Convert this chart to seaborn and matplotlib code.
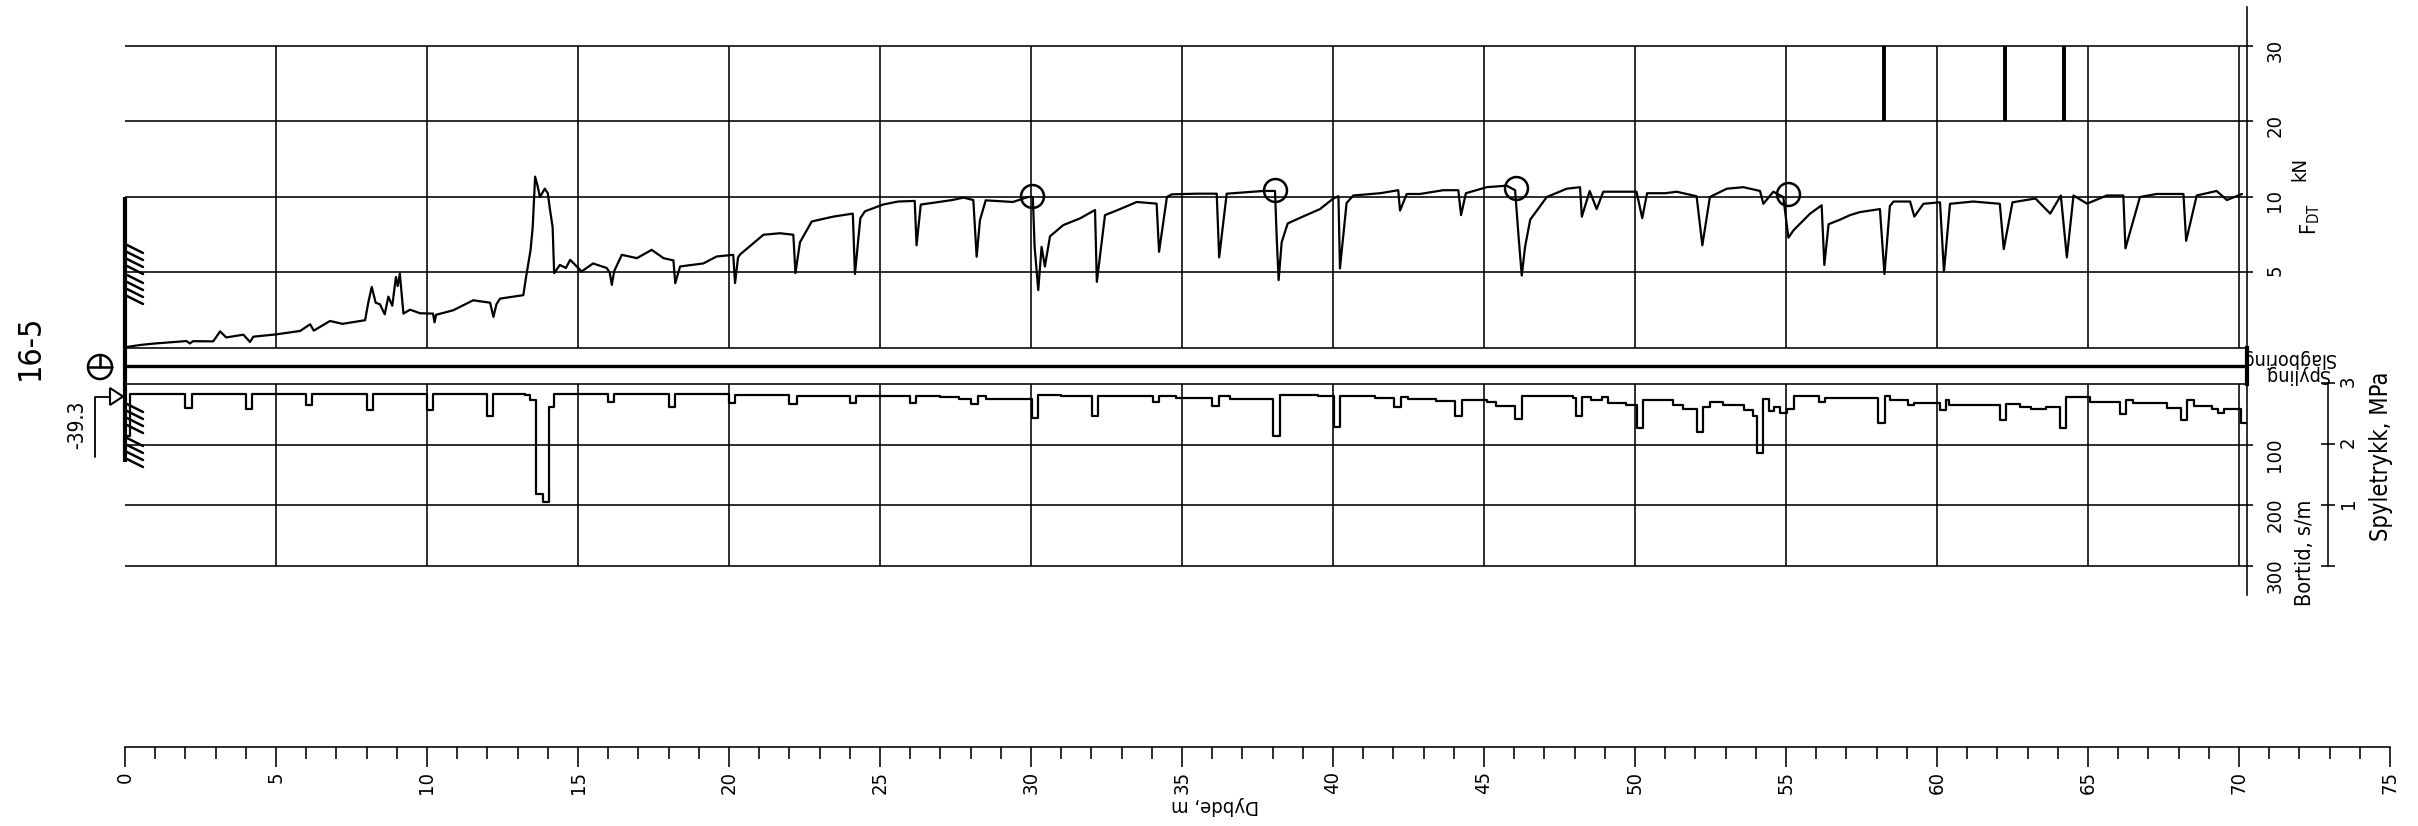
import numpy as np
import pandas as pd
import matplotlib
matplotlib.use("Agg")
import matplotlib.pyplot as plt
import seaborn as sns
from matplotlib import font_manager
from matplotlib.patches import Circle, Polygon
from matplotlib.ticker import FixedLocator, NullLocator, MultipleLocator

# ---------------- data ----------------
f_depth = [0.0, 0.5, 0.94, 1.5, 2.04, 2.15, 2.25, 2.92, 3.15, 3.35, 3.92, 4.14, 4.25, 5.0, 5.8,
           6.13, 6.25, 6.79, 7.2, 7.95, 8.06, 8.17, 8.3, 8.44, 8.6, 8.72, 8.85, 8.97, 9.03, 9.1,
           9.22, 9.44, 9.77, 10.2, 10.25, 10.3, 10.87, 11.53, 12.09, 12.2, 12.3, 12.42, 13.19,
           13.28, 13.43, 13.5, 13.58, 13.66, 13.74, 13.9, 14.0, 14.07, 14.16, 14.21, 14.4, 14.6,
           14.74, 15.12, 15.5, 15.95, 16.05, 16.12, 16.2, 16.45, 16.95, 17.44, 17.83, 18.16,
           18.22, 18.38, 19.15, 19.59, 20.14, 20.2, 20.3, 20.37, 20.75, 21.14, 21.69, 22.13,
           22.2, 22.35, 22.74, 23.45, 24.1, 24.17, 24.35, 24.5, 25.1, 25.6, 26.15, 26.21, 26.35,
           27.4, 27.76, 28.09, 28.2, 28.31, 28.5, 29.4, 29.9, 30.06, 30.12, 30.24, 30.35, 30.46,
           30.63, 31.07, 31.62, 32.12, 32.18, 32.45, 32.95, 33.5, 34.16, 34.24, 34.5, 34.66,
           35.49, 36.15, 36.23, 36.48, 37.7, 38.08, 38.14, 38.2, 38.3, 38.5, 39.0, 39.57, 40.01,
           40.18, 40.23, 40.45, 40.67, 41.56, 42.16, 42.22, 42.44, 42.88, 43.65, 44.15, 44.24,
           44.4, 45.09, 45.75, 46.03, 46.14, 46.25, 46.36, 46.53, 46.75, 47.08, 47.74, 48.18,
           48.24, 48.5, 48.73, 48.95, 50.05, 50.24, 50.4, 51.0, 51.38, 52.04, 52.23, 52.48,
           53.04, 53.59, 54.14, 54.25, 54.58, 54.91, 55.08, 55.25, 55.8, 56.18, 56.27, 56.41,
           56.79, 57.12, 57.45, 58.11, 58.26, 58.44, 58.56, 59.11, 59.25, 59.55, 60.1, 60.23,
           60.43, 61.2, 62.08, 62.21, 62.5, 63.26, 63.75, 64.1, 64.3, 64.52, 64.97, 65.62,
           66.17, 66.24, 66.72, 67.27, 68.16, 68.25, 68.6, 69.26, 69.6, 70.1]
f_kn = [0.05, 0.2, 0.29, 0.38, 0.46, 0.3, 0.45, 0.44, 1.1, 0.7, 0.88, 0.4, 0.75, 0.9, 1.13,
        1.57, 1.15, 1.79, 1.6, 1.84, 3.05, 4.05, 3.0, 2.9, 2.23, 3.4, 2.8, 4.7, 4.1, 4.93,
        2.28, 2.54, 2.3, 2.28, 1.7, 2.2, 2.5, 3.16, 3.0, 2.06, 2.9, 3.27, 3.5,
        4.7, 6.5, 8.0, 12.7, 11.5, 10.0, 11.1, 10.5, 9.2, 8.0, 4.96, 5.5, 5.3,
        5.84, 5.07, 5.6, 5.3, 5.0, 4.18, 5.1, 6.17, 5.95, 6.5, 5.95, 5.8,
        4.29, 5.4, 5.6, 6.06, 6.17, 4.3, 6.0, 6.2, 6.84, 7.5, 7.6, 7.5,
        4.96, 7.0, 8.38, 8.7, 8.9, 4.9, 8.6, 9.05, 9.5, 9.7, 9.74, 6.8, 9.5,
        9.8, 9.96, 9.8, 6.04, 8.47, 9.78, 9.67, 10.0, 10.0, 6.7, 3.83, 6.7, 5.4,
        7.4, 8.14, 8.58, 9.14, 4.38, 8.8, 9.2, 9.67, 9.56, 6.37, 10.0, 10.35,
        10.44, 10.44, 6.0, 10.44, 10.8, 10.8, 7.1, 4.5, 7.0, 8.25, 8.7, 9.2, 9.9,
        10.1, 5.27, 9.6, 10.2, 10.5, 10.9, 9.1, 10.4, 10.4, 10.9, 10.9, 8.8,
        10.5, 11.3, 11.5, 10.9, 7.5, 4.8, 6.7, 8.5, 9.1, 10.0, 11.1, 11.3,
        8.7, 10.8, 9.2, 10.7, 10.7, 8.6, 10.5, 10.5, 10.7, 10.1, 6.8, 10.0,
        11.1, 11.3, 10.8, 9.55, 10.7, 10.0, 7.3, 7.8, 8.9, 9.45, 5.5, 8.2,
        8.5, 8.8, 9.0, 9.2, 4.9, 9.4, 9.7, 9.7, 8.7, 9.55, 9.65, 5.05,
        9.55, 9.7, 9.55, 6.55, 9.65, 9.9, 8.9, 10.2, 6.0, 10.2, 9.56, 10.2,
        10.2, 6.6, 10.0, 10.4, 10.4, 7.1, 10.2, 10.8, 9.8, 10.4]

bt_depth = [0.0, 0.17, 1.99, 2.21, 4.0, 4.2, 6.0, 6.2, 8.0, 8.22, 10.0, 10.2, 11.98, 12.2,
            13.25, 13.4, 13.6, 13.83, 14.03, 14.2, 16.0, 16.2, 18.0, 18.2, 20.0, 20.2, 22.0,
            22.25, 24.0, 24.2, 26.0, 26.2, 27.0, 27.6, 28.0, 28.23, 28.5, 30.02, 30.24, 31.0,
            32.03, 32.23, 34.03, 34.24, 34.8, 36.0, 36.23, 36.6, 38.02, 38.25, 39.5, 40.03,
            40.23, 41.4, 42.03, 42.24, 42.5, 43.4, 44.04, 44.26, 45.1, 45.4, 46.03, 46.25,
            47.96, 48.05, 48.25, 48.55, 48.9, 49.1, 49.7, 50.05, 50.26, 51.27, 51.6, 52.04,
            52.26, 52.48, 52.9, 53.6, 53.9, 54.05, 54.25, 54.45, 54.6, 54.8, 55.03, 55.25,
            56.1, 56.3, 58.06, 58.28, 58.44, 59.05, 59.25, 60.1, 60.3, 60.4, 62.07, 62.29,
            62.75, 63.1, 63.6, 64.07, 64.27, 65.07, 66.06, 66.26, 66.5, 67.6, 68.07, 68.27,
            68.5, 69.1, 69.3, 69.5, 70.08, 70.26]
bt_sm = [85, 16, 39.5, 16, 40.7, 16, 35, 16, 43, 16, 43, 16, 52, 16,
         18, 27, 182, 194, 38, 16, 30, 16, 38, 16, 31, 18, 33,
         19, 31, 20, 32, 20, 21, 24, 33, 20, 24, 56, 18, 20,
         53, 19, 29, 19, 23, 36, 20, 24, 85, 18, 20, 71,
         19, 23, 38, 22, 24, 28, 53, 27, 29, 36, 58, 20,
         23, 53, 21, 27, 21, 31, 35, 72, 27, 34, 41, 79,
         38, 29, 34, 43, 52, 113, 25, 45, 38, 48, 41, 20,
         30, 23, 65, 20, 26, 35, 31, 43, 26, 34, 60, 33,
         38, 42, 38, 72, 22, 30, 50, 26, 32, 40, 59, 27,
         36, 41, 47, 41, 65, 65]

mark_depth = [30.04, 38.08, 46.06, 55.06]
mark_kn = [10.1, 10.96, 11.2, 10.4]
spike_depth = [58.25, 62.24, 64.2]

depth_ticks = list(range(0, 76, 5))
f_ticks = [5, 10, 20, 30]
bt_ticks = [100, 200, 300]
sp_ticks = [0, 1, 2, 3]
sp_labels = ["", "1", "2", "3"]
grid_depths = list(range(5, 71, 5))

# ---------------- style ----------------
sns.set_theme(style="white")
names = {f.name for f in font_manager.fontManager.ttflist}
FONT = "Liberation Sans Narrow" if "Liberation Sans Narrow" in names else "DejaVu Sans"
plt.rcParams["font.family"] = [FONT, "DejaVu Sans"]
if FONT == "DejaVu Sans":
    plt.rcParams["font.stretch"] = "condensed"
plt.rcParams["mathtext.fontset"] = "custom"
plt.rcParams["mathtext.rm"] = FONT
plt.rcParams["mathtext.it"] = FONT
plt.rcParams["mathtext.default"] = "rm"

K = "black"
W, H = 2418, 826
fig = plt.figure(figsize=(W / 100, H / 100), dpi=100)
fig.patch.set_facecolor("white")

PXM = 30.2                 # pixels per metre
X0, XR = 125, 2247
DMAX = (XR - X0) / PXM
GLW = 1.15
CLW = 1.6
TS = 14.5
LS = 15.5


def pax(x0, y0, x1, y1):
    return fig.add_axes([x0 / W, 1 - y1 / H, (x1 - x0) / W, (y1 - y0) / H])


def fwd(v):
    v = np.asarray(v, dtype=float)
    return np.where(v <= 10, v, 10 + (v - 10) / 2.0)


def inv(t):
    t = np.asarray(t, dtype=float)
    return np.where(t <= 10, t, 10 + (t - 10) * 2.0)


# ---------------- F_DT panel ----------------
ax_f = pax(X0, 7, XR, 348)
ax_f.set_yscale("function", functions=(fwd, inv))
FTOP = 10 + 2 * (341 / 15.1 - 10)
ax_f.set_facecolor("none")
ax_f.vlines(grid_depths, 0, 30, color=K, lw=GLW, zorder=1)
for v in f_ticks:
    ax_f.axhline(v, color=K, lw=GLW, zorder=1)
sns.lineplot(x=f_depth, y=f_kn, ax=ax_f, color=K, lw=CLW, sort=False, estimator=None, zorder=3)
ax_f.vlines(spike_depth, 20, 30, color=K, lw=2.8, zorder=3)
ax_f.plot(mark_depth, mark_kn, "o", mfc="none", mec=K, ms=16.5, mew=1.8, zorder=4)
ax_f.set_xlim(0, DMAX)
ax_f.set_ylim(0, FTOP)
for s in ["top", "left"]:
    ax_f.spines[s].set_visible(False)
for s in ["right", "bottom"]:
    ax_f.spines[s].set_color(K)
    ax_f.spines[s].set_linewidth(GLW)
ax_f.yaxis.tick_right()
ax_f.yaxis.set_major_locator(FixedLocator(f_ticks))
ax_f.yaxis.set_minor_locator(NullLocator())
ax_f.set_yticklabels([str(v) for v in f_ticks])
ax_f.tick_params(axis="y", direction="out", length=4.3, width=GLW, color=K,
                 labelrotation=90, pad=9, labelsize=TS, labelcolor=K)
ax_f.set_xticks([])
ax_f.set_xlabel("")
ax_f.set_ylabel("")
ax_f.grid(False)

# ---------------- boring-mode band ----------------
ax_b = pax(X0, 348, XR, 384)
ax_b.set_xlim(0, DMAX)
ax_b.set_ylim(0, 1)
ax_b.set_facecolor("none")
ax_b.axhline(0.5, color=K, lw=2.4)
for s in ["top", "left", "bottom"]:
    ax_b.spines[s].set_visible(False)
ax_b.spines["right"].set_color(K)
ax_b.spines["right"].set_linewidth(3.0)
ax_b.set_xticks([])
ax_b.set_yticks([])
ax_b.grid(False)

# ---------------- Bortid panel ----------------
ax_t = pax(X0, 384, XR, 595)
BTOP = (595 - 384) / 0.607
ax_t.set_facecolor("none")
ax_t.vlines(grid_depths, 0, 300, color=K, lw=GLW, zorder=1)
for v in bt_ticks:
    ax_t.axhline(v, color=K, lw=GLW, zorder=1)
sns.lineplot(x=bt_depth, y=bt_sm, ax=ax_t, color=K, lw=CLW, sort=False, estimator=None,
             drawstyle="steps-post", zorder=3)
ax_t.set_xlim(0, DMAX)
ax_t.set_ylim(BTOP, 0)
for s in ["left", "bottom"]:
    ax_t.spines[s].set_visible(False)
for s in ["right", "top"]:
    ax_t.spines[s].set_color(K)
    ax_t.spines[s].set_linewidth(GLW)
ax_t.yaxis.tick_right()
ax_t.set_yticks(bt_ticks)
ax_t.set_yticklabels([str(v) for v in bt_ticks])
ax_t.tick_params(axis="y", direction="out", length=4.3, width=GLW, color=K,
                 labelrotation=90, pad=9, labelsize=TS, labelcolor=K)
ax_t.set_xticks([])
ax_t.set_xlabel("")
ax_t.set_ylabel("")
ax_t.grid(False)

# ---------------- Spyletrykk scale ----------------
ax_s = pax(2327, 383, 2328, 566)
ax_s.set_ylim(0, 3)
ax_s.set_facecolor("none")
for s in ["top", "left", "bottom"]:
    ax_s.spines[s].set_visible(False)
ax_s.spines["right"].set_color(K)
ax_s.spines["right"].set_linewidth(GLW)
ax_s.yaxis.tick_right()
ax_s.set_yticks(sp_ticks)
ax_s.set_yticklabels(sp_labels)
ax_s.tick_params(axis="y", direction="inout", length=9.4, width=GLW, color=K,
                 labelrotation=90, pad=3, labelsize=TS, labelcolor=K)
ax_s.set_xticks([])
ax_s.grid(False)

# ---------------- depth axis ----------------
ax_d = pax(X0, 740, 2390, 747)
ax_d.set_xlim(0, 75)
ax_d.set_facecolor("none")
for s in ["top", "left", "right"]:
    ax_d.spines[s].set_visible(False)
ax_d.spines["bottom"].set_color(K)
ax_d.spines["bottom"].set_linewidth(GLW)
ax_d.set_xticks(depth_ticks)
ax_d.set_xticklabels([str(v) for v in depth_ticks])
ax_d.xaxis.set_minor_locator(MultipleLocator(1))
ax_d.tick_params(axis="x", which="major", direction="out", length=14.4, width=GLW, color=K,
                 labelrotation=90, pad=3, labelsize=TS, labelcolor=K, bottom=True)
ax_d.tick_params(axis="x", which="minor", direction="out", length=8.6, width=GLW, color=K,
                 bottom=True)
ax_d.set_yticks([])
ax_d.grid(False)

# ---------------- texts ----------------
fig.text(1215 / W, 1 - 806 / H, "Dybde, m", rotation=180, ha="center", va="center",
         fontsize=TS, color=K)
fig.text(2300 / W, 1 - 169 / H, "kN", rotation=90, ha="center", va="center",
         fontsize=TS, color=K)
fig.text(2310 / W, 1 - 219 / H, r"$\mathregular{F_{DT}}$", rotation=90, ha="center",
         va="center", fontsize=LS, color=K)
fig.text(2305 / W, 1 - 553 / H, "Bortid, s/m", rotation=90, ha="center", va="center",
         fontsize=LS, color=K)
fig.text(2381 / W, 1 - 456 / H, "Spyletrykk, MPa", rotation=90, ha="center", va="center",
         fontsize=LS + 1.5, color=K)
fig.text(2335 / W, 1 - 358 / H, "Slagboring", rotation=180, ha="right", va="center",
         fontsize=14, color=K)
fig.text(2329 / W, 1 - 374 / H, "Spyling", rotation=180, ha="right", va="center",
         fontsize=14, color=K)
fig.text(30 / W, 1 - 347 / H, "16-5", rotation=90, ha="center", va="center",
         fontsize=23, color=K)
fig.text(77 / W, 1 - 425 / H, "-39.3", rotation=90, ha="center", va="center",
         fontsize=15, color=K)

# ---------------- overlay decorations (pixel coordinates) ----------------
ax_o = fig.add_axes([0, 0, 1, 1])
ax_o.set_xlim(0, W)
ax_o.set_ylim(H, 0)
ax_o.set_axis_off()
ax_o.patch.set_alpha(0)
ax_o.plot([125, 125], [197, 462], color=K, lw=3.0, solid_capstyle="butt")
for g0 in [245, 275, 404, 438]:
    for k in range(4):
        y = g0 + 7 * k
        ax_o.plot([127, 143], [y, y + 8], color=K, lw=1.8)
ax_o.add_patch(Circle((100, 367), 12, fill=False, ec=K, lw=1.8))
ax_o.plot([88, 112], [367, 367], color=K, lw=1.8)
ax_o.plot([100, 100], [355, 367], color=K, lw=1.8)
ax_o.add_patch(Polygon([(110, 388), (110, 405), (123, 396.5)], closed=True, fill=False,
                       ec=K, lw=1.5))
ax_o.plot([110, 95, 95], [396.5, 396.5, 457], color=K, lw=1.3)

fig.savefig("out.png", dpi=100, facecolor="white")
